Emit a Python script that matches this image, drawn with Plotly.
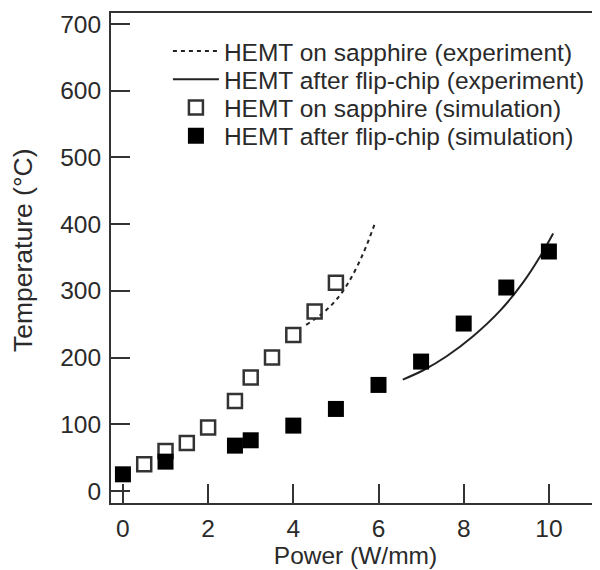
import plotly.graph_objects as go

# Simulation data
sapphire_sim_x = [0.5, 1.0, 1.5, 2.0, 2.63, 3.0, 3.5, 4.0, 4.5, 5.0]
sapphire_sim_y = [40, 60, 72, 95, 135, 170, 200, 234, 269, 312]

flip_sim_x = [0, 1, 2.63, 3, 4, 5, 6, 7, 8, 9, 10]
flip_sim_y = [25, 44, 68, 76, 98, 123, 159, 194, 251, 305, 359]

# Experiment curves
sapphire_exp_x = [4.3, 4.7, 5.0, 5.3, 5.64, 5.92]
sapphire_exp_y = [249, 267, 286, 313, 356, 402]

flip_exp_x = [6.57, 7.05, 7.6, 8.22, 8.85, 9.4, 9.79, 10.1]
flip_exp_y = [167, 181, 202, 232, 270, 313, 351, 386]

names = [
    "HEMT on sapphire (experiment)",
    "HEMT after flip-chip (experiment)",
    "HEMT on sapphire (simulation)",
    "HEMT after flip-chip (simulation)",
]

x_ticks = [0, 2, 4, 6, 8, 10]
y_ticks = [0, 100, 200, 300, 400, 500, 600, 700]

x_title = "Power (W/mm)"
y_title = "Temperature (°C)"

FONT = "Liberation Sans, Arial, sans-serif"
DARK = "#2a2a2a"

fig = go.Figure()
fig.add_trace(go.Scatter(x=sapphire_exp_x, y=sapphire_exp_y, mode="lines", name=names[0],
                         legend="legend",
                         line=dict(color="#222", width=2, dash="4px,4px", shape="spline")))
fig.add_trace(go.Scatter(x=flip_exp_x, y=flip_exp_y, mode="lines", name=names[1],
                         legend="legend2",
                         line=dict(color="#222", width=2, shape="spline")))
fig.add_trace(go.Scatter(x=sapphire_sim_x, y=sapphire_sim_y, mode="markers", name=names[2],
                         legend="legend3",
                         marker=dict(symbol="square-open", size=14, color="#333",
                                     line=dict(width=2.5, color="#333"))))
fig.add_trace(go.Scatter(x=flip_sim_x, y=flip_sim_y, mode="markers", name=names[3],
                         legend="legend4",
                         marker=dict(symbol="square", size=16, color="#000",
                                     line=dict(width=0))))

axis_common = dict(
    showgrid=False, zeroline=False, showline=True, linecolor="#333", linewidth=2,
    ticks="inside", ticklen=19, tickwidth=2, tickcolor="#333", automargin=False,
    tickfont=dict(family=FONT, size=24.5, color=DARK),
    title_font=dict(family=FONT, size=24.5, color=DARK),
    ticklabelstandoff=3,
)

fig.update_xaxes(range=[-0.28, 11.2], tickvals=x_ticks, mirror=True,
                 title_text=x_title, title_standoff=2, **axis_common)
fig.update_yaxes(range=[-18, 716.5], tickvals=y_ticks, mirror=False, **axis_common)

fig.add_annotation(text=y_title, textangle=-90, xref="paper", yref="paper",
                   x=-0.181, y=0.5173, xanchor="center", yanchor="middle",
                   showarrow=False, font=dict(family=FONT, size=26.5, color=DARK))

def leg(yc):
    return dict(x=0.1164, y=yc, xanchor="left", yanchor="middle",
                bgcolor="rgba(0,0,0,0)", font=dict(family=FONT, size=24.5, color=DARK),
                itemwidth=46)

fig.update_layout(
    width=592, height=562,
    margin=dict(l=103, r=0, t=5, b=67),
    paper_bgcolor="white", plot_bgcolor="white",
    font=dict(family=FONT, size=24, color=DARK),
    legend=leg(0.9224),
    legend2=leg(0.8648),
    legend3=leg(0.8071),
    legend4=leg(0.7493),
    showlegend=True,
)

fig.write_html("out.html")
